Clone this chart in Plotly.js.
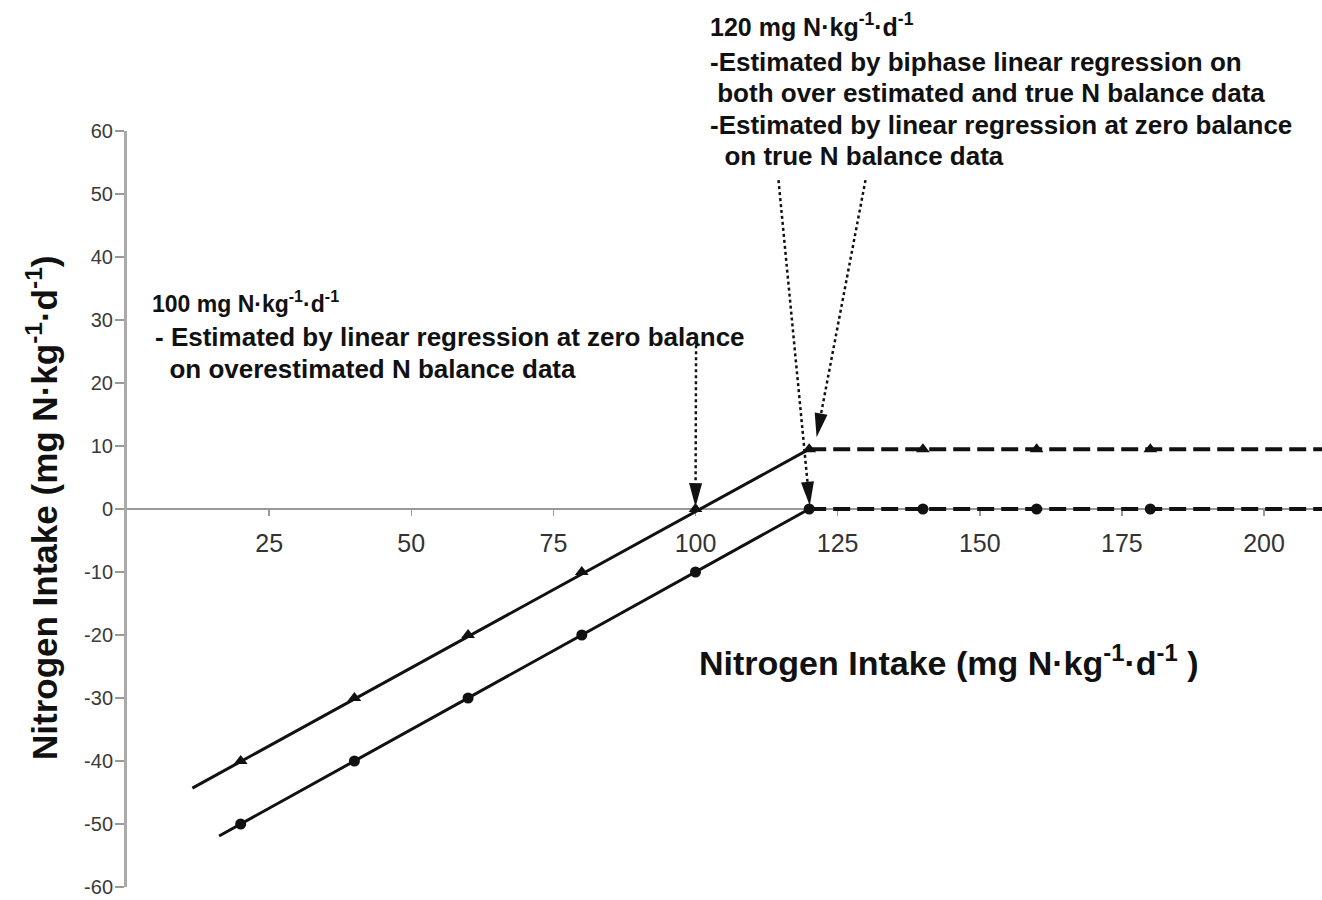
<!DOCTYPE html>
<html><head><meta charset="utf-8">
<script src="https://cdn.plot.ly/plotly-3.0.1.min.js"></script>
<style>html,body{margin:0;padding:0;background:#fff}#chart{width:1322px;height:900px}</style>
</head><body><div id="chart"></div>
<script>
// ---- data ----
const intake = [20, 40, 60, 80, 100, 120, 140, 160, 180];
const overestimatedBalance = [-40, -30, -20, -10, 0, 9.5, 9.5, 9.5, 9.5];
const trueBalance = [-50, -40, -30, -20, -10, 0, 0, 0, 0];
const overFitX = [11.5, 120];
const overFitY = [-44.3, 9.5];
const trueFitX = [16.2, 120];
const trueFitY = [-51.9, 0];
const plateauX = [120, 210.2];
const overPlateauY = [9.5, 9.5];
const truePlateauY = [0, 0];
const xTicks = [25, 50, 75, 100, 125, 150, 175, 200];
const yTicks = [-60, -50, -40, -30, -20, -10, 0, 10, 20, 30, 40, 50, 60];
const arrowStartX = [100.1, 114.6, 129.9];
const arrowStartY = [26, 52.2, 52.2];
const arrowTipX = [100, 120.1, 121.3];
const arrowTipY = [0.3, 0.5, 11.4];

// ---- geometry ----
const ML = 127, MT = 131, PW = 1322 - ML, PH = 900 - MT - 13;
const XR = [0, 210.2], YR = [-60, 60];
const FONT = 'Liberation Sans, Arial, Helvetica, sans-serif';
function toPx(x, y) { return [ML + (x - XR[0]) / (XR[1] - XR[0]) * PW, MT + (YR[1] - y) / (YR[1] - YR[0]) * PH]; }
function toData(px, py) { return [XR[0] + (px - ML) / PW * (XR[1] - XR[0]), YR[1] - (py - MT) / PH * (YR[1] - YR[0])]; }
function paper(px, py) { return [(px - ML) / PW, (MT + PH - py) / PH]; }

const shapes = [];
for (let i = 0; i < arrowStartX.length; i++) {
  const s = toPx(arrowStartX[i], arrowStartY[i]);
  const t = toPx(arrowTipX[i], arrowTipY[i]);
  const dx = t[0] - s[0], dy = t[1] - s[1];
  const len = Math.hypot(dx, dy);
  const ux = dx / len, uy = dy / len, nx = -uy, ny = ux;
  const headL = 24, headW = 6.5;
  const b = [t[0] - ux * headL, t[1] - uy * headL];
  const base = toData(b[0], b[1]);
  const p1 = toData(b[0] + nx * headW, b[1] + ny * headW);
  const p2 = toData(b[0] - nx * headW, b[1] - ny * headW);
  shapes.push({type: 'line', xref: 'x', yref: 'y', x0: arrowStartX[i], y0: arrowStartY[i], x1: base[0], y1: base[1],
    line: {color: '#111', width: 2.5, dash: 'dot'}});
  shapes.push({type: 'path', xref: 'x', yref: 'y',
    path: 'M' + arrowTipX[i] + ',' + arrowTipY[i] + ' L' + p1[0] + ',' + p1[1] + ' L' + p2[0] + ',' + p2[1] + ' Z',
    fillcolor: '#111', line: {width: 0}});
}

const annotations = [];
function textLine(text, px, py, size, extra) {
  const p = paper(px, py);
  annotations.push(Object.assign({xref: 'paper', yref: 'paper', x: p[0], y: p[1], xanchor: 'left', yanchor: 'middle',
    text: '<b>' + text + '</b>', showarrow: false, align: 'left', font: {family: FONT, size: size, color: '#111'}}, extra || {}));
}
const NB = '\u00A0';
textLine('100 mg N\u00B7kg<sup>-1</sup>\u00B7d<sup>-1</sup>', 150, 302, 23);
textLine('- Estimated by linear regression at zero balance', 153, 337, 26);
textLine(NB + NB + 'on overestimated N balance data', 153, 369, 26);
textLine('120 mg N\u00B7kg<sup>-1</sup>\u00B7d<sup>-1</sup>', 708, 25, 25);
textLine('-Estimated by biphase linear regression on', 708, 62, 26);
textLine(NB + 'both over estimated and true N balance data', 708, 93, 26);
textLine('-Estimated by linear regression at zero balance', 708, 125, 26);
textLine(NB + NB + 'on true N balance data', 708, 156, 26);

// axis titles
const xt = paper(948, 660);
annotations.push({xref: 'paper', yref: 'paper', x: xt[0], y: xt[1], xanchor: 'center', yanchor: 'middle', showarrow: false,
  text: '<b>Nitrogen Intake (mg N\u00B7kg<sup>-1</sup>\u00B7d<sup>-1</sup> )</b>', font: {family: FONT, size: 34, color: '#111'}});
const yt = paper(42, 508);
annotations.push({xref: 'paper', yref: 'paper', x: yt[0], y: yt[1], xanchor: 'center', yanchor: 'middle', showarrow: false, textangle: -90,
  text: '<b>Nitrogen Intake (mg N\u00B7kg<sup>-1</sup>\u00B7d<sup>-1</sup>)</b>', font: {family: FONT, size: 35, color: '#111'}});

const traces = [
  {x: overFitX, y: overFitY, mode: 'lines', line: {color: '#111', width: 3}, hoverinfo: 'skip'},
  {x: trueFitX, y: trueFitY, mode: 'lines', line: {color: '#111', width: 3}, hoverinfo: 'skip'},
  {x: plateauX, y: overPlateauY, mode: 'lines', line: {color: '#111', width: 4, dash: '17px,7px'}, hoverinfo: 'skip'},
  {x: plateauX, y: truePlateauY, mode: 'lines', line: {color: '#111', width: 4, dash: '17px,7px'}, hoverinfo: 'skip'},
  {x: intake, y: overestimatedBalance, mode: 'markers', name: 'Overestimated N balance',
   marker: {symbol: 'triangle-up', size: 12, color: '#111'}},
  {x: intake, y: trueBalance, mode: 'markers', name: 'True N balance',
   marker: {symbol: 'circle', size: 11, color: '#111'}}
];

const layout = {
  width: 1322, height: 900,
  margin: {l: ML, r: 0, t: MT, b: 13},
  paper_bgcolor: '#fff', plot_bgcolor: '#fff',
  showlegend: false,
  font: {family: FONT, color: '#333'},
  xaxis: {range: XR, anchor: 'free', position: 0.5, showline: true, linecolor: '#999', linewidth: 2, layer: 'below traces',
    ticks: 'outside', ticklen: 6, tickwidth: 1.5, tickcolor: '#999', tickvals: xTicks, ticktext: xTicks.map(String),
    tickfont: {family: FONT, size: 25, color: '#333'}, ticklabelstandoff: 6, showgrid: false, zeroline: false, fixedrange: true},
  yaxis: {range: YR, showline: true, linecolor: '#aaa', linewidth: 3, layer: 'below traces',
    ticks: 'outside', ticklen: 9, tickwidth: 1.5, tickcolor: '#999', tickvals: yTicks, ticktext: yTicks.map(String),
    tickfont: {family: FONT, size: 20, color: '#3a3a3a'}, ticklabelstandoff: -2, showgrid: false, zeroline: false, fixedrange: true},
  shapes: shapes,
  annotations: annotations
};
Plotly.newPlot('chart', traces, layout, {displayModeBar: false, staticPlot: true});
</script></body></html>
